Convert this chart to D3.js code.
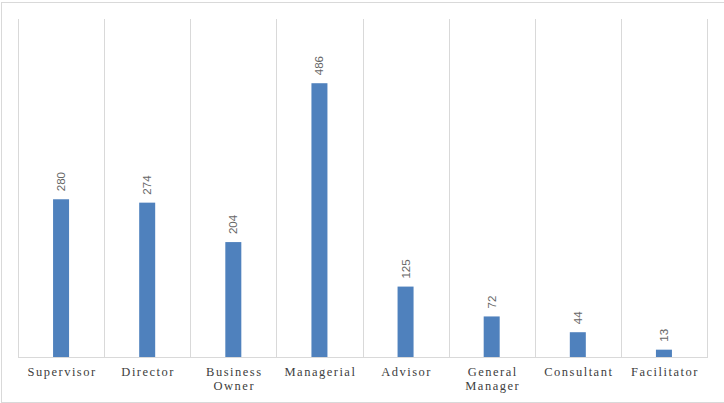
<!DOCTYPE html>
<html><head><meta charset="utf-8">
<script src="https://cdn.jsdelivr.net/npm/d3@7"></script>
<style>body{margin:0;background:#fff}svg{display:block}</style>
</head><body>
<script>
const categories = ["Supervisor","Director","Business Owner","Managerial","Advisor","General Manager","Consultant","Facilitator"];
const categoryLines = [["Supervisor"],["Director"],["Business","Owner"],["Managerial"],["Advisor"],["General","Manager"],["Consultant"],["Facilitator"]];
const values = [280,274,204,486,125,72,44,13];
const yMax = 600;

const W=724,H=403;
const svg=d3.select("body").append("svg").attr("width",W).attr("height",H);
svg.append("rect").attr("x",1.5).attr("y",2.5).attr("width",730).attr("height",400)
  .attr("fill","#fff").attr("stroke","#d9d9d9").attr("stroke-width",1);

const x=d3.scaleBand().domain(categories).range([18,707]).paddingInner(0).paddingOuter(0);
const y=d3.scaleLinear().domain([0,yMax]).range([357,19]);
const g=svg.append("g");

// vertical gridlines at band edges
const edges=categories.map(c=>x(c)).concat([x.range()[1]]);
g.selectAll("line.grid").data(edges).join("line").attr("class","grid")
  .attr("x1",d=>Math.round(d)+0.5).attr("x2",d=>Math.round(d)+0.5)
  .attr("y1",y(yMax)).attr("y2",y(0)).attr("stroke","#d9d9d9");
g.append("line").attr("x1",x.range()[0]).attr("x2",x.range()[1]+1)
  .attr("y1",y(0)+0.5).attr("y2",y(0)+0.5).attr("stroke","#d9d9d9");

const bw=16;
g.selectAll("rect.bar").data(values).join("rect").attr("class","bar")
  .attr("x",(d,i)=>x(categories[i])+x.bandwidth()/2-bw/2)
  .attr("y",d=>y(d)).attr("width",bw).attr("height",d=>y(0)-y(d))
  .attr("fill","#4F81BD");

g.selectAll("text.val").data(values).join("text").attr("class","val")
  .attr("transform",(d,i)=>`translate(${x(categories[i])+x.bandwidth()/2+4},${y(d)-8}) rotate(-90)`)
  .attr("text-anchor","start").attr("font-family","Liberation Sans, Arial, sans-serif")
  .attr("font-size","11.5px").attr("fill","#666").text(d=>d);

const lab=g.selectAll("text.cat").data(categoryLines).join("text").attr("class","cat")
  .attr("x",(d,i)=>x(categories[i])+x.bandwidth()/2+1).attr("y",376)
  .attr("text-anchor","middle").attr("font-family","Liberation Serif, Times New Roman, serif")
  .attr("font-size","12.5px").attr("letter-spacing","1.5px").attr("fill","#404040");
lab.selectAll("tspan").data(d=>d).join("tspan")
  .attr("x",function(){return this.parentNode.getAttribute("x");})
  .attr("dy",(d,i)=>i===0?0:14).text(d=>d);
</script>
</body></html>
